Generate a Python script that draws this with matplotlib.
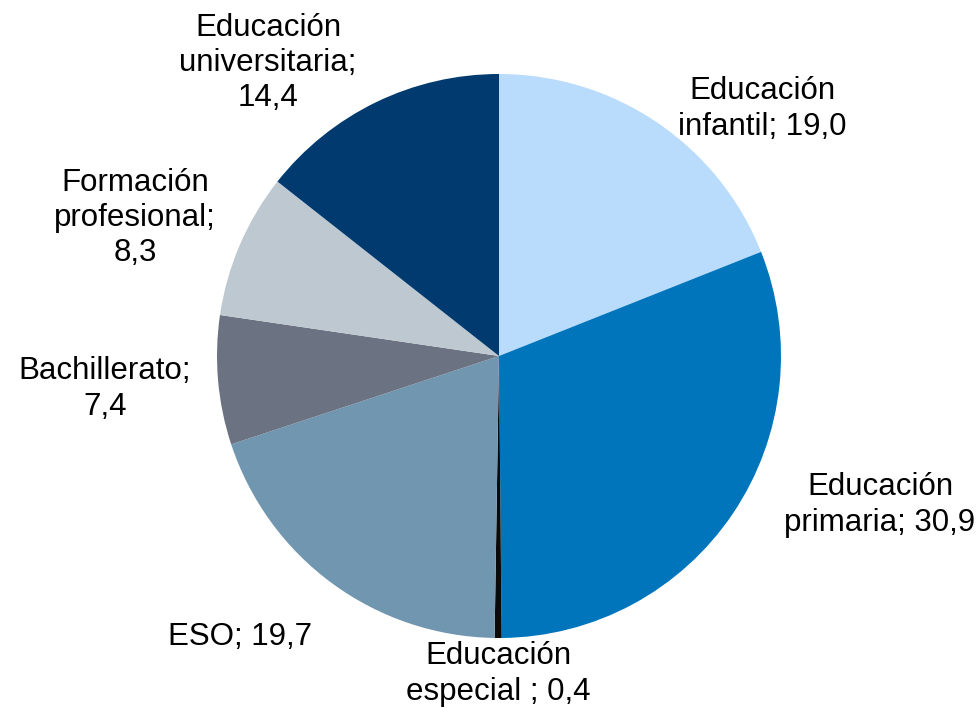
import matplotlib.pyplot as plt

plt.rcParams['font.family'] = ['Liberation Sans', 'DejaVu Sans']

labels = ["Educación\ninfantil; 19,0", "Educación\nprimaria; 30,9", "Educación\nespecial ; 0,4",
          "ESO; 19,7", "Bachillerato;\n7,4", "Formación\nprofesional;\n8,3",
          "Educación\nuniversitaria;\n14,4"]
values = [19.0, 30.9, 0.4, 19.7, 7.4, 8.3, 14.4]
colors = ["#B9DCFD", "#0075BC", "#0A0A0A", "#7096B0", "#6B7282", "#BEC8D1", "#003A6E"]

# label centres in pixel coords (x, y from top)
label_pos = [(762, 109), (880, 505), (498, 674), (240, 637), (105, 389), (135, 218), (268, 63)]

W, H = 980, 708
fig = plt.figure(figsize=(9.8, 7.08), dpi=100)
ax = fig.add_axes([0, 0, 1, 1])

ax.pie(values, colors=colors, startangle=90, counterclock=False,
       center=(499, H - 356), radius=282, frame=True,
       wedgeprops=dict(linewidth=0))
ax.set_xlim(0, W)
ax.set_ylim(0, H)
ax.set_aspect('equal')
ax.axis('off')

for lab, (x, y) in zip(labels, label_pos):
    ax.text(x, H - y, lab, ha='center', va='center', multialignment='center',
            fontsize=22.5, color='black', linespacing=1.22)

fig.savefig("out.png", dpi=100)
